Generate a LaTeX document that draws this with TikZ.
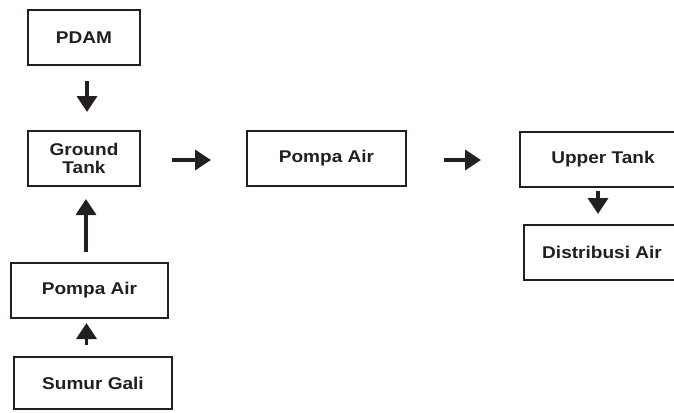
\documentclass[tikz,border=0pt]{standalone}
\usepackage{fontspec}
\setmainfont{Liberation Sans}[FakeStretch=1.12]
\usetikzlibrary{arrows.meta}
\definecolor{ink}{HTML}{231F20}
\tikzset{
  box/.style={draw=ink, line width=2pt, text=ink, align=center, inner sep=0pt,
    font=\fontsize{17}{17.5}\selectfont\bfseries},
  arr/.style={draw=ink, line width=3.5pt, -{Triangle[length=16pt,width=20pt]}}
}
\begin{document}
\begin{tikzpicture}[x=1pt,y=-1pt]
\useasboundingbox (0,0) rectangle (674,412);
\node[box, minimum width=112pt, minimum height=55pt] (pdam) at (84,37.5) {PDAM};
\node[box, minimum width=112pt, minimum height=55pt] (ground) at (84,158.5) {Ground\\Tank};
\node[box, minimum width=159pt, minimum height=55pt] (pompa1) at (326.5,158.5) {Pompa Air};
\node[box, minimum width=166pt, minimum height=55pt] (upper) at (603,159.5) {Upper Tank};
\node[box, minimum width=156pt, minimum height=55pt] (distrib) at (602,252.5) {Distribusi Air};
\node[box, minimum width=157pt, minimum height=55pt] (pompa2) at (89.5,290.5) {Pompa Air};
\node[box, minimum width=158pt, minimum height=52pt] (sumur) at (93,383) {Sumur Gali};

\draw[arr, shorten <=15pt, shorten >=18pt] ([xshift=3pt]pdam.south) -- ([xshift=3pt]ground.north);
\draw[arr, shorten <=10pt, shorten >=12pt] ([xshift=-3.5pt]pompa2.north) -- ([xshift=2pt]ground.south);
\draw[arr, shorten <=11pt, shorten >=4pt] ([xshift=-6.5pt]sumur.north) -- ([xshift=-3pt]pompa2.south);
\draw[arr, shorten <=31pt, shorten >=35pt] ([yshift=-1.5pt]ground.east) -- ([yshift=-1.5pt]pompa1.west);
\draw[arr, shorten <=37pt, shorten >=38pt] ([yshift=-1.5pt]pompa1.east) -- ([yshift=-0.5pt]upper.west);
\draw[arr, shorten <=3pt, shorten >=10pt] ([xshift=-5pt]upper.south) -- ([xshift=-4pt]distrib.north);
\end{tikzpicture}
\end{document}
